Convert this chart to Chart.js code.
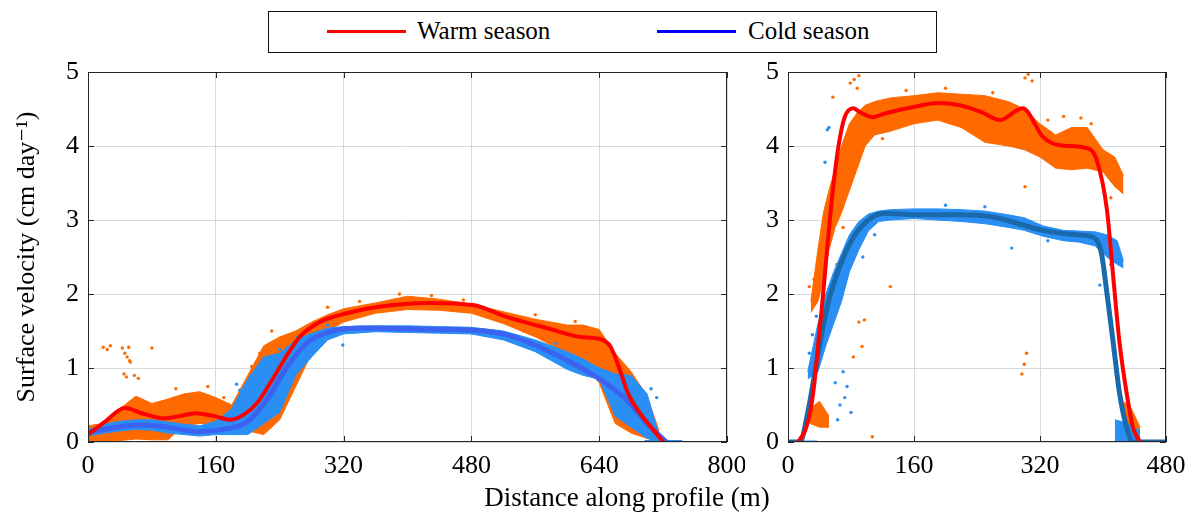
<!DOCTYPE html>
<html>
<head>
<meta charset="utf-8">
<script src="https://cdn.jsdelivr.net/npm/chart.js@4.4.1/dist/chart.umd.min.js"></script>
<style>
  body { margin: 0; background: #fff; width: 1192px; height: 517px; position: relative; overflow: hidden;
         font-family: 'Liberation Serif', 'Times New Roman', Times, 'DejaVu Serif', serif; color: #000; }
  canvas { position: absolute; top: 0; }
  #cL { left: 0; }
  #cR { left: 745px; }
  #legend { position: absolute; left: 268px; top: 11px; width: 667px; height: 40px; border: 1.5px solid #111; background: #fff; }
  #legend .ln { position: absolute; top: 18px; width: 79px; height: 3px; }
  #legend .tx { position: absolute; top: 5px; font-size: 25px; line-height: 28px; white-space: nowrap; }
  #xtitle { position: absolute; left: 0; width: 1254px; top: 481px; text-align: center; font-size: 27px; line-height: 32px; }
</style>
</head>
<body>
<canvas id="cL" width="745" height="517"></canvas>
<canvas id="cR" width="447" height="517"></canvas>
<div id="legend">
  <div class="ln" style="left:58px;background:#ff0000"></div>
  <div class="tx" style="left:148px">Warm season</div>
  <div class="ln" style="left:388px;background:#0000ff"></div>
  <div class="tx" style="left:479px">Cold season</div>
</div>
<div id="xtitle">Distance along profile (m)</div>
<script>
// ---- left profile (0-800 m) ----
const warmFitLX = [0, 22, 46, 70, 94, 115, 134, 158, 178, 195, 212, 226, 240, 252, 265, 290, 324, 366, 424, 482, 524, 574, 616, 641, 654, 666, 676, 691, 708, 720]
const warmFitLY = [0.10, 0.28, 0.46, 0.38, 0.32, 0.35, 0.39, 0.35, 0.30, 0.37, 0.53, 0.76, 1.01, 1.22, 1.42, 1.62, 1.74, 1.83, 1.88, 1.85, 1.69, 1.54, 1.42, 1.39, 1.29, 0.97, 0.66, 0.39, 0.16, 0.0]
const coldFitLX = [0, 31, 61, 94, 136, 174, 199, 224, 249, 274, 303, 345, 390, 440, 482, 524, 574, 616, 649, 674, 699, 724]
const coldFitLY = [0.13, 0.19, 0.23, 0.21, 0.14, 0.18, 0.27, 0.57, 1.01, 1.34, 1.49, 1.54, 1.53, 1.52, 1.51, 1.45, 1.24, 1.01, 0.79, 0.57, 0.26, 0.0]

const bandLX  = [0, 20, 40, 60, 80, 100, 120, 140, 160, 180, 200, 220, 240, 260, 280, 300, 320, 360, 400, 440, 480, 520, 560, 600, 620, 640, 660, 680, 700, 715]
const warmHiL = [0.22, 0.25, 0.45, 0.62, 0.52, 0.58, 0.65, 0.68, 0.6, 0.5, 0.9, 1.3, 1.42, 1.5, 1.62, 1.72, 1.8, 1.88, 1.97, 1.93, 1.86, 1.76, 1.66, 1.58, 1.58, 1.52, 1.2, 0.95, 0.62, 0.15]
const warmLoL = [0.0, 0.0, 0.02, 0.04, 0.03, 0.03, 0.22, 0.25, 0.25, 0.22, 0.15, 0.1, 0.3, 0.75, 1.2, 1.5, 1.62, 1.74, 1.79, 1.78, 1.74, 1.6, 1.42, 1.2, 1.05, 0.8, 0.25, 0.12, 0.05, 0.0]
const coldHiL = [0.17, 0.24, 0.28, 0.3, 0.3, 0.27, 0.24, 0.22, 0.28, 0.45, 0.85, 1.15, 1.2, 1.38, 1.47, 1.54, 1.56, 1.57, 1.57, 1.56, 1.55, 1.5, 1.38, 1.22, 1.12, 1.0, 0.92, 0.9, 0.65, 0.08]
const coldLoL = [0.08, 0.12, 0.15, 0.17, 0.16, 0.12, 0.1, 0.08, 0.1, 0.1, 0.1, 0.25, 0.4, 0.9, 1.15, 1.38, 1.46, 1.49, 1.48, 1.47, 1.46, 1.38, 1.22, 0.98, 0.9, 0.85, 0.35, 0.2, 0.05, 0.0]
const coldZeroLX = [697, 744]
const coldZeroLY = [0, 0]

const warmOutLX = [19, 24, 28, 43, 46, 49, 51, 53, 45, 48, 58, 63, 80, 52, 110, 150, 170, 205, 215, 230, 300, 340, 390, 430, 470, 560, 610, 655, 690, 700]
const warmOutLY = [1.28, 1.25, 1.30, 1.27, 1.20, 1.15, 1.28, 1.08, 0.92, 0.88, 0.90, 0.86, 1.27, 1.10, 0.72, 0.75, 0.6, 1.02, 1.2, 1.5, 1.82, 1.9, 2.0, 1.98, 1.92, 1.72, 1.63, 1.1, 0.75, 0.55]
const coldOutLX = [319, 186, 192, 190, 196, 240, 262, 300, 585, 650, 665, 705, 712]
const coldOutLY = [1.31, 0.78, 0.62, 0.7, 0.55, 1.25, 1.42, 1.58, 1.33, 0.95, 1.0, 0.72, 0.6]

// ---- right profile (0-480 m) ----
const warmFitRX = [13, 22, 28, 34, 38, 43, 50, 56, 64, 72, 83, 91, 107, 123, 161, 190, 218, 245, 269, 298, 324, 345, 380, 392, 405, 413, 421, 430, 438, 447]
const warmFitRY = [0, 0.16, 0.39, 0.84, 1.29, 1.82, 2.64, 3.31, 3.99, 4.39, 4.51, 4.46, 4.39, 4.44, 4.53, 4.58, 4.55, 4.46, 4.35, 4.51, 4.12, 4.01, 3.97, 3.81, 3.14, 2.23, 1.34, 0.66, 0.2, 0]
const coldFitRX = [0, 15, 25, 34, 43, 51, 64, 81, 102, 123, 161, 218, 260, 324, 367, 387, 398, 405, 413, 421, 430, 438, 480]
const coldFitRY = [0, 0, 0.39, 0.93, 1.47, 1.88, 2.32, 2.73, 3.0, 3.09, 3.07, 3.07, 3.04, 2.86, 2.8, 2.77, 2.55, 2.01, 1.34, 0.66, 0.2, 0, 0]

const warmBandRX = [29, 38, 45, 52, 60, 68, 78, 88, 98, 110, 130, 160, 190, 220, 250, 280, 300, 320, 340, 360, 380, 400, 415, 426]
const warmHiR = [1.9, 2.6, 3.1, 3.4, 3.7, 4.0, 4.3, 4.45, 4.55, 4.6, 4.65, 4.68, 4.72, 4.7, 4.68, 4.6, 4.5, 4.3, 4.15, 4.25, 4.25, 3.95, 3.85, 3.6]
const warmLoR = [1.75, 1.9, 2.2, 2.6, 2.9, 3.1, 3.4, 3.7, 4.0, 4.15, 4.2, 4.3, 4.35, 4.25, 4.05, 4.0, 3.95, 3.85, 3.7, 3.68, 3.7, 3.65, 3.45, 3.35]
const warmLowRX = [28, 40, 52]
const warmLowHiR = [0.45, 0.55, 0.35]
const warmLowLoR = [0.25, 0.2, 0.2]
const warmEndRX = [426, 436, 447]
const warmEndHiR = [0.55, 0.45, 0.2]
const warmEndLoR = [0.05, 0.05, 0.05]

const coldBandRX = [25, 38, 48, 58, 68, 78, 90, 102, 115, 130, 160, 190, 220, 250, 280, 300, 324, 350, 370, 390, 405, 418, 426]
const coldHiR = [0.95, 1.6, 2.0, 2.3, 2.55, 2.8, 2.98, 3.08, 3.12, 3.14, 3.15, 3.15, 3.14, 3.12, 3.07, 3.03, 2.92, 2.86, 2.85, 2.84, 2.8, 2.72, 2.45]
const coldLoR = [0.85, 0.95, 1.3, 1.6, 1.9, 2.3, 2.6, 2.85, 2.98, 3.0, 3.02, 3.0, 2.98, 2.95, 2.9, 2.86, 2.78, 2.72, 2.7, 2.65, 2.5, 2.4, 2.35]
const coldEndRX = [415, 430, 447]
const coldEndHiR = [0.3, 0.26, 0.15]
const coldEndLoR = [0, 0, 0]
const coldZeroRX = [0, 37]
const coldZeroRY = [0, 0]

const warmOutRX = [79, 84, 88, 90, 57, 301, 305, 310, 301, 297, 300, 303, 94, 83, 90, 130, 97, 107, 150, 200, 260, 330, 350, 372, 385, 410, 62, 70, 120, 27, 33]
const warmOutRY = [4.85, 4.9, 4.78, 4.95, 4.66, 4.92, 4.97, 4.88, 3.45, 0.92, 1.05, 1.2, 1.29, 1.15, 1.62, 2.1, 1.65, 0.07, 4.75, 4.78, 4.72, 4.35, 4.4, 4.38, 4.3, 3.3, 2.4, 2.9, 4.1, 2.1, 2.2]
const coldOutRX = [50, 52, 47, 60, 66, 72, 80, 75, 284, 396, 63, 70, 95, 110, 200, 250, 330, 410, 420, 27, 31, 36]
const coldOutRY = [4.22, 4.25, 3.78, 0.8, 0.5, 0.6, 0.4, 0.75, 2.62, 2.12, 0.3, 0.95, 2.5, 2.8, 3.2, 3.18, 2.72, 2.4, 2.5, 1.2, 1.45, 1.7]

const orange = '#ff6a00'
const lightBlue = '#2a8ff5'
const serif = "'Liberation Serif', 'Times New Roman', Times, 'DejaVu Serif', serif"

function pts(xs, ys) {
  return xs.map((x, i) => ({ x: x, y: ys[i] }))
}

function band(xs, hi, lo, color, order) {
  return [
    { data: pts(xs, hi), borderColor: color, backgroundColor: color, borderWidth: 1, pointRadius: 0, fill: '+1', order: order },
    { data: pts(xs, lo), borderColor: color, backgroundColor: color, borderWidth: 1, pointRadius: 0, fill: false, order: order }
  ]
}

function fitLine(xs, ys, color, width, order) {
  return { data: pts(xs, ys), borderColor: color, borderWidth: width, pointRadius: 0, fill: false,
           cubicInterpolationMode: 'monotone', order: order }
}

function dots(xs, ys, color, order) {
  return { data: pts(xs, ys), showLine: false, pointRadius: 1.7, pointBorderWidth: 0,
           pointBackgroundColor: color, borderColor: color, order: order }
}

// frame round the plot and short inward ticks, MATLAB style
const frame = {
  id: 'frame',
  afterDraw(chart) {
    const { ctx, chartArea: a, scales } = chart
    ctx.save()
    ctx.strokeStyle = '#262626'
    ctx.lineWidth = 1
    ctx.strokeRect(a.left + 0.5, a.top + 0.5, a.width - 1, a.height - 1)
    ctx.beginPath()
    scales.x.ticks.forEach(t => {
      const px = Math.round(scales.x.getPixelForValue(t.value)) + 0.5
      ctx.moveTo(px, a.bottom); ctx.lineTo(px, a.bottom - 6)
      ctx.moveTo(px, a.top); ctx.lineTo(px, a.top + 6)
    })
    scales.y.ticks.forEach(t => {
      const py = Math.round(scales.y.getPixelForValue(t.value)) + 0.5
      ctx.moveTo(a.left, py); ctx.lineTo(a.left + 6, py)
      ctx.moveTo(a.right, py); ctx.lineTo(a.right - 6, py)
    })
    ctx.stroke()
    ctx.restore()
  }
}

function makeChart(id, datasets, xMax, yWidth, padRight, yTitle) {
  return new Chart(document.getElementById(id), {
    type: 'line',
    data: { datasets: datasets },
    plugins: [frame],
    options: {
      responsive: false,
      animation: false,
      events: [],
      devicePixelRatio: 1,
      layout: { padding: { left: 0, right: padRight, top: 72, bottom: 0 } },
      plugins: { legend: { display: false }, tooltip: { enabled: false } },
      scales: {
        x: {
          type: 'linear', min: 0, max: xMax,
          afterFit: s => { s.height = 75; s.paddingLeft = 0; s.paddingRight = 0 },
          ticks: { stepSize: 160, color: '#000', padding: 9, maxRotation: 0, font: { family: serif, size: 26 } },
          grid: { color: '#d9d9d9', drawTicks: false },
          border: { display: false }
        },
        y: {
          min: 0, max: 5,
          afterFit: s => { s.width = yWidth; s.paddingTop = 0; s.paddingBottom = 0 },
          ticks: { stepSize: 1, color: '#000', padding: 9, font: { family: serif, size: 26 } },
          grid: { color: '#d9d9d9', drawTicks: false },
          border: { display: false },
          title: { display: !!yTitle, text: yTitle || '', color: '#000', padding: { top: 12, bottom: 0 },
                   font: { family: serif, size: 26 } }
        }
      }
    }
  })
}

const leftSets = [
  fitLine(warmFitLX, warmFitLY, '#ff0000', 4, 0),
  fitLine(coldFitLX, coldFitLY, '#3b62f0', 5, 1),
  dots(coldOutLX, coldOutLY, lightBlue, 2),
  ...band(bandLX, coldHiL, coldLoL, lightBlue, 3),
  { data: pts(coldZeroLX, coldZeroLY), borderColor: lightBlue, borderWidth: 4, pointRadius: 0, fill: false, order: 3 },
  dots(warmOutLX, warmOutLY, orange, 4),
  ...band(bandLX, warmHiL, warmLoL, orange, 5)
]

const rightSets = [
  fitLine(warmFitRX, warmFitRY, '#ff0000', 4, 0),
  fitLine(coldFitRX, coldFitRY, '#1a6aab', 5, 1),
  dots(coldOutRX, coldOutRY, lightBlue, 2),
  ...band(coldBandRX, coldHiR, coldLoR, lightBlue, 3),
  ...band(coldEndRX, coldEndHiR, coldEndLoR, lightBlue, 3),
  { data: pts(coldZeroRX, coldZeroRY), borderColor: lightBlue, borderWidth: 3, pointRadius: 0, fill: false, order: 3 },
  dots(warmOutRX, warmOutRY, orange, 4),
  ...band(warmBandRX, warmHiR, warmLoR, orange, 5),
  ...band(warmLowRX, warmLowHiR, warmLowLoR, orange, 5),
  ...band(warmEndRX, warmEndHiR, warmEndLoR, orange, 5)
]

makeChart('cL', leftSets, 800, 88, 18, 'Surface velocity (cm day\u207B\u00B9)')
makeChart('cR', rightSets, 480, 43, 26, null)
</script>
</body>
</html>
